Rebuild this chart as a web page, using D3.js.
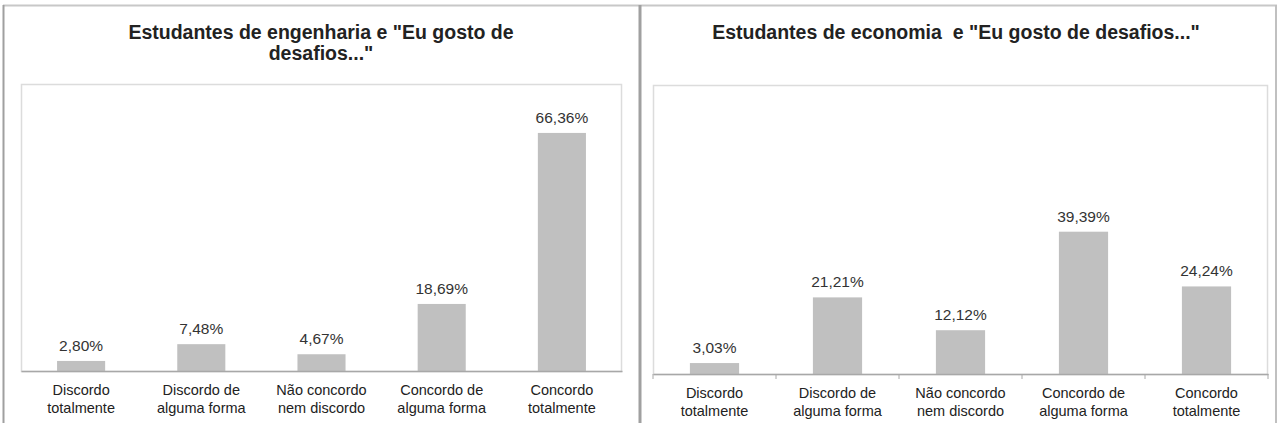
<!DOCTYPE html>
<html>
<head>
<meta charset="utf-8">
<script src="https://cdn.jsdelivr.net/npm/d3@7"></script>
<style>
  html, body { margin: 0; padding: 0; background: #fff; }
  svg { display: block; }
  text { font-family: "Liberation Sans", Arial, sans-serif; }
</style>
</head>
<body>
<svg id="chart" width="1281" height="423"></svg>
<script>
// ---- Data ----
const categories = [
  "Discordo\ntotalmente",
  "Discordo de\nalguma forma",
  "Não concordo\nnem discordo",
  "Concordo de\nalguma forma",
  "Concordo\ntotalmente"
];
const engenhariaValues = [2.80, 7.48, 4.67, 18.69, 66.36];
const economiaValues = [3.03, 21.21, 12.12, 39.39, 24.24];
const titleEngenharia = ["Estudantes de engenharia e \"Eu gosto de", "desafios...\""];
const titleEconomia = ["Estudantes de economia  e \"Eu gosto de desafios...\""];
const yDomain = [0, 80];

const svg = d3.select("#chart");
const fmt = v => d3.format(".2f")(v).replace(".", ",") + "%";

// ---- Panel frames ----
const frame = svg.append("g");
frame.append("line").attr("x1", 3).attr("x2", 1277).attr("y1", 5.5).attr("y2", 5.5)
  .attr("stroke", "#c8c8c8").attr("stroke-width", 2);
frame.append("line").attr("x1", 3.5).attr("x2", 3.5).attr("y1", 5).attr("y2", 423)
  .attr("stroke", "#a0a0a0").attr("stroke-width", 2);
frame.append("line").attr("x1", 640).attr("x2", 640).attr("y1", 5).attr("y2", 423)
  .attr("stroke", "#a0a0a0").attr("stroke-width", 3);
frame.append("line").attr("x1", 1276).attr("x2", 1276).attr("y1", 5).attr("y2", 423)
  .attr("stroke", "#c0c0c0").attr("stroke-width", 2);

function drawPanel(cfg) {
  const g = svg.append("g");
  const x = d3.scaleBand().domain(categories)
    .range([cfg.left, cfg.right]).paddingInner(0.6).paddingOuter(0.3);
  const y = d3.scaleLinear().domain(yDomain).range([cfg.bottom, cfg.top]);

  // title
  const t = g.append("text")
    .attr("x", cfg.titleX).attr("y", cfg.titleY)
    .attr("text-anchor", "middle")
    .attr("font-size", 19.5).attr("font-weight", "bold").attr("fill", "#222")
    .style("white-space", "pre");
  cfg.title.forEach((line, i) => {
    t.append("tspan").attr("x", cfg.titleX).attr("dy", i === 0 ? 0 : 21.5).text(line);
  });

  // plot area border
  g.append("rect")
    .attr("x", cfg.left + 0.5).attr("y", cfg.top + 0.5)
    .attr("width", cfg.right - cfg.left - 1).attr("height", cfg.bottom - cfg.top)
    .attr("fill", "none").attr("stroke", "#dcdcdc").attr("stroke-width", 1.5);

  // bars
  g.selectAll("rect.bar").data(cfg.values).join("rect")
    .attr("class", "bar")
    .attr("x", (d, i) => x(categories[i]))
    .attr("width", x.bandwidth())
    .attr("y", d => y(d))
    .attr("height", d => y(0) - y(d))
    .attr("fill", "#c0c0c0");

  // value labels
  g.selectAll("text.val").data(cfg.values).join("text")
    .attr("class", "val")
    .attr("x", (d, i) => x(categories[i]) + x.bandwidth() / 2)
    .attr("y", d => y(d) - 10)
    .attr("text-anchor", "middle")
    .attr("font-size", 15.5).attr("fill", "#333")
    .text(d => fmt(d));

  // x axis
  const axis = g.append("g").attr("transform", `translate(0,${cfg.bottom})`)
    .call(d3.axisBottom(x).tickSize(0).tickFormat(""));
  axis.select(".domain").attr("stroke", "#a8a8a8").attr("stroke-width", 1.5);
  if (cfg.ticks) {
    const bounds = d3.range(categories.length + 1).map(i => x.range()[0] + i * x.step());
    g.selectAll("line.tk").data(bounds).join("line")
      .attr("class", "tk")
      .attr("x1", d => d).attr("x2", d => d)
      .attr("y1", cfg.bottom).attr("y2", cfg.bottom + 5)
      .attr("stroke", "#a8a8a8").attr("stroke-width", 1);
  }

  // category labels
  categories.forEach(c => {
    const lt = g.append("text")
      .attr("x", x(c) + x.bandwidth() / 2).attr("y", cfg.bottom + 23.5)
      .attr("text-anchor", "middle").attr("font-size", 14.5).attr("fill", "#222");
    c.split("\n").forEach((line, i) => {
      lt.append("tspan").attr("x", x(c) + x.bandwidth() / 2).attr("dy", i === 0 ? 0 : 18).text(line);
    });
  });
}

drawPanel({
  left: 21, right: 622, top: 84, bottom: 371,
  titleX: 321, titleY: 38.5, title: titleEngenharia,
  values: engenhariaValues, ticks: false
});
drawPanel({
  left: 653, right: 1268, top: 85, bottom: 374,
  titleX: 956, titleY: 38.5, title: titleEconomia,
  values: economiaValues, ticks: true
});
</script>
</body>
</html>
